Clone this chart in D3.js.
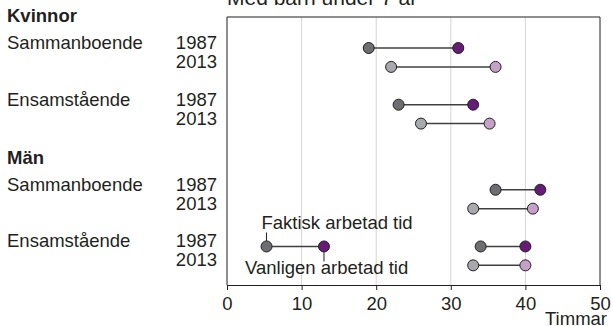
<!DOCTYPE html>
<html>
<head>
<meta charset="utf-8">
<script src="https://cdn.jsdelivr.net/npm/d3@7"></script>
<style>
  html, body { margin: 0; padding: 0; background: #fff; }
  svg { display: block; font-family: "Liberation Sans", Arial, sans-serif; }
</style>
</head>
<body>
<svg id="chart" width="613" height="326"></svg>
<script>
// Weekly working hours, parents with children under 7
const groups = ["Kvinnor", "Män"];
const households = ["Sammanboende", "Ensamstående"];
const years = ["1987", "2013"];

// Faktisk arbetad tid (actual) per group -> household -> year
const actualHours = [
  [[19, 22], [23, 26]],
  [[36, 33], [34, 33]]
];
// Vanligen arbetad tid (usual) per group -> household -> year
const usualHours = [
  [[31, 36], [33, 35.2]],
  [[42, 41], [40, 40]]
];

const xTicks = [0, 10, 20, 30, 40, 50];
const legendLabels = ["Faktisk arbetad tid", "Vanligen arbetad tid"];
const legendValues = [5.3, 13];

const colors = {
  actual: ["#6d6e71", "#a7a9ac"],
  usual: ["#641c78", "#c6a0c9"],
  stroke: "#231f20",
  link: "#404040",
  grid: "#d4d4d4",
  text: "#231f20"
};

const svg = d3.select("#chart");
const plot = { left: 227, right: 600, top: 17, bottom: 285 };

const x = d3.scaleLinear().domain([0, 50]).range([plot.left, plot.right]);
// Row slots: each group spans 15 half-steps, each household 6, each year 2
const y = d3.scaleLinear().domain([0, 23]).range([48, 265.35]);
const slot = (g, h, yr) => g * 15 + h * 6 + yr * 2;

const fontSize = 18.5;

// Title
svg.append("text")
  .attr("x", plot.left).attr("y", 5)
  .attr("font-size", 21).attr("fill", colors.text)
  .text("Med barn under 7 år");

// Gridlines
svg.append("g").selectAll("line")
  .data(xTicks.filter(t => t > 0 && t < 50))
  .join("line")
  .attr("x1", d => x(d)).attr("x2", d => x(d))
  .attr("y1", plot.top).attr("y2", plot.bottom)
  .attr("stroke", colors.grid).attr("stroke-width", 1);

// Frame (top, left, right)
svg.append("path")
  .attr("d", `M${plot.left},${plot.bottom}V${plot.top}H${plot.right}V${plot.bottom}`)
  .attr("fill", "none").attr("stroke", colors.stroke).attr("stroke-width", 1);

// X axis
const xAxis = svg.append("g")
  .attr("transform", `translate(0,${plot.bottom})`)
  .call(d3.axisBottom(x).tickValues(xTicks).tickSize(5).tickPadding(7).tickSizeOuter(0));
xAxis.select(".domain").attr("stroke", colors.stroke);
xAxis.selectAll(".tick line").attr("stroke", colors.stroke);
xAxis.selectAll("text")
  .attr("font-size", fontSize).attr("fill", colors.text)
  .attr("font-family", "Liberation Sans, Arial, sans-serif");

svg.append("text")
  .attr("x", 607).attr("y", 325)
  .attr("text-anchor", "end")
  .attr("font-size", fontSize).attr("fill", colors.text)
  .text("Timmar");

// Build row records
const rows = [];
groups.forEach((g, gi) => {
  households.forEach((h, hi) => {
    years.forEach((yr, yi) => {
      rows.push({
        group: g, household: h, year: yr, gi, hi, yi,
        actual: actualHours[gi][hi][yi],
        usual: usualHours[gi][hi][yi],
        pos: y(slot(gi, hi, yi))
      });
    });
  });
});

// Group headers
svg.append("g").selectAll("text")
  .data(groups)
  .join("text")
  .attr("x", 7).attr("y", (d, i) => y(i * 15 - 2.75))
  .attr("font-size", fontSize).attr("font-weight", "bold").attr("fill", colors.text)
  .text(d => d);

// Household labels
svg.append("g").selectAll("text")
  .data(rows.filter(r => r.yi === 0))
  .join("text")
  .attr("x", 7).attr("y", d => d.pos + 1)
  .attr("font-size", fontSize).attr("fill", colors.text)
  .text(d => d.household);

// Year labels
svg.append("g").selectAll("text")
  .data(rows)
  .join("text")
  .attr("x", 217).attr("y", d => d.pos + 1)
  .attr("text-anchor", "end")
  .attr("font-size", fontSize).attr("fill", colors.text)
  .text(d => d.year);

// Dumbbells
const r = 5.5;
const bells = svg.append("g").selectAll("g")
  .data(rows)
  .join("g");
bells.append("line")
  .attr("x1", d => x(d.actual)).attr("x2", d => x(d.usual))
  .attr("y1", d => d.pos).attr("y2", d => d.pos)
  .attr("stroke", colors.link).attr("stroke-width", 1.5);
bells.append("circle")
  .attr("cx", d => x(d.actual)).attr("cy", d => d.pos).attr("r", r)
  .attr("fill", d => colors.actual[d.yi])
  .attr("stroke", colors.stroke).attr("stroke-width", 1);
bells.append("circle")
  .attr("cx", d => x(d.usual)).attr("cy", d => d.pos).attr("r", r)
  .attr("fill", d => colors.usual[d.yi])
  .attr("stroke", colors.stroke).attr("stroke-width", 1);

// Legend drawn inside the plot, on the Män / Ensamstående 1987 row
const ly = y(slot(1, 1, 0));
const legend = svg.append("g");
legend.append("line")
  .attr("x1", x(legendValues[0])).attr("x2", x(legendValues[1]))
  .attr("y1", ly).attr("y2", ly)
  .attr("stroke", colors.link).attr("stroke-width", 1.5);
legend.append("line")
  .attr("x1", x(legendValues[0])).attr("x2", x(legendValues[0]))
  .attr("y1", ly - 14).attr("y2", ly - r)
  .attr("stroke", colors.stroke).attr("stroke-width", 1);
legend.append("line")
  .attr("x1", x(legendValues[1])).attr("x2", x(legendValues[1]))
  .attr("y1", ly + r).attr("y2", ly + 15)
  .attr("stroke", colors.stroke).attr("stroke-width", 1);
legend.selectAll("circle")
  .data(legendValues)
  .join("circle")
  .attr("cx", d => x(d)).attr("cy", ly).attr("r", r)
  .attr("fill", (d, i) => i === 0 ? colors.actual[0] : colors.usual[0])
  .attr("stroke", colors.stroke).attr("stroke-width", 1);
legend.append("text")
  .attr("x", 261.5).attr("y", ly - 17)
  .attr("font-size", fontSize).attr("fill", colors.text)
  .text(legendLabels[0]);
legend.append("text")
  .attr("x", 245).attr("y", ly + 28)
  .attr("font-size", fontSize).attr("fill", colors.text)
  .text(legendLabels[1]);
</script>
</body>
</html>
